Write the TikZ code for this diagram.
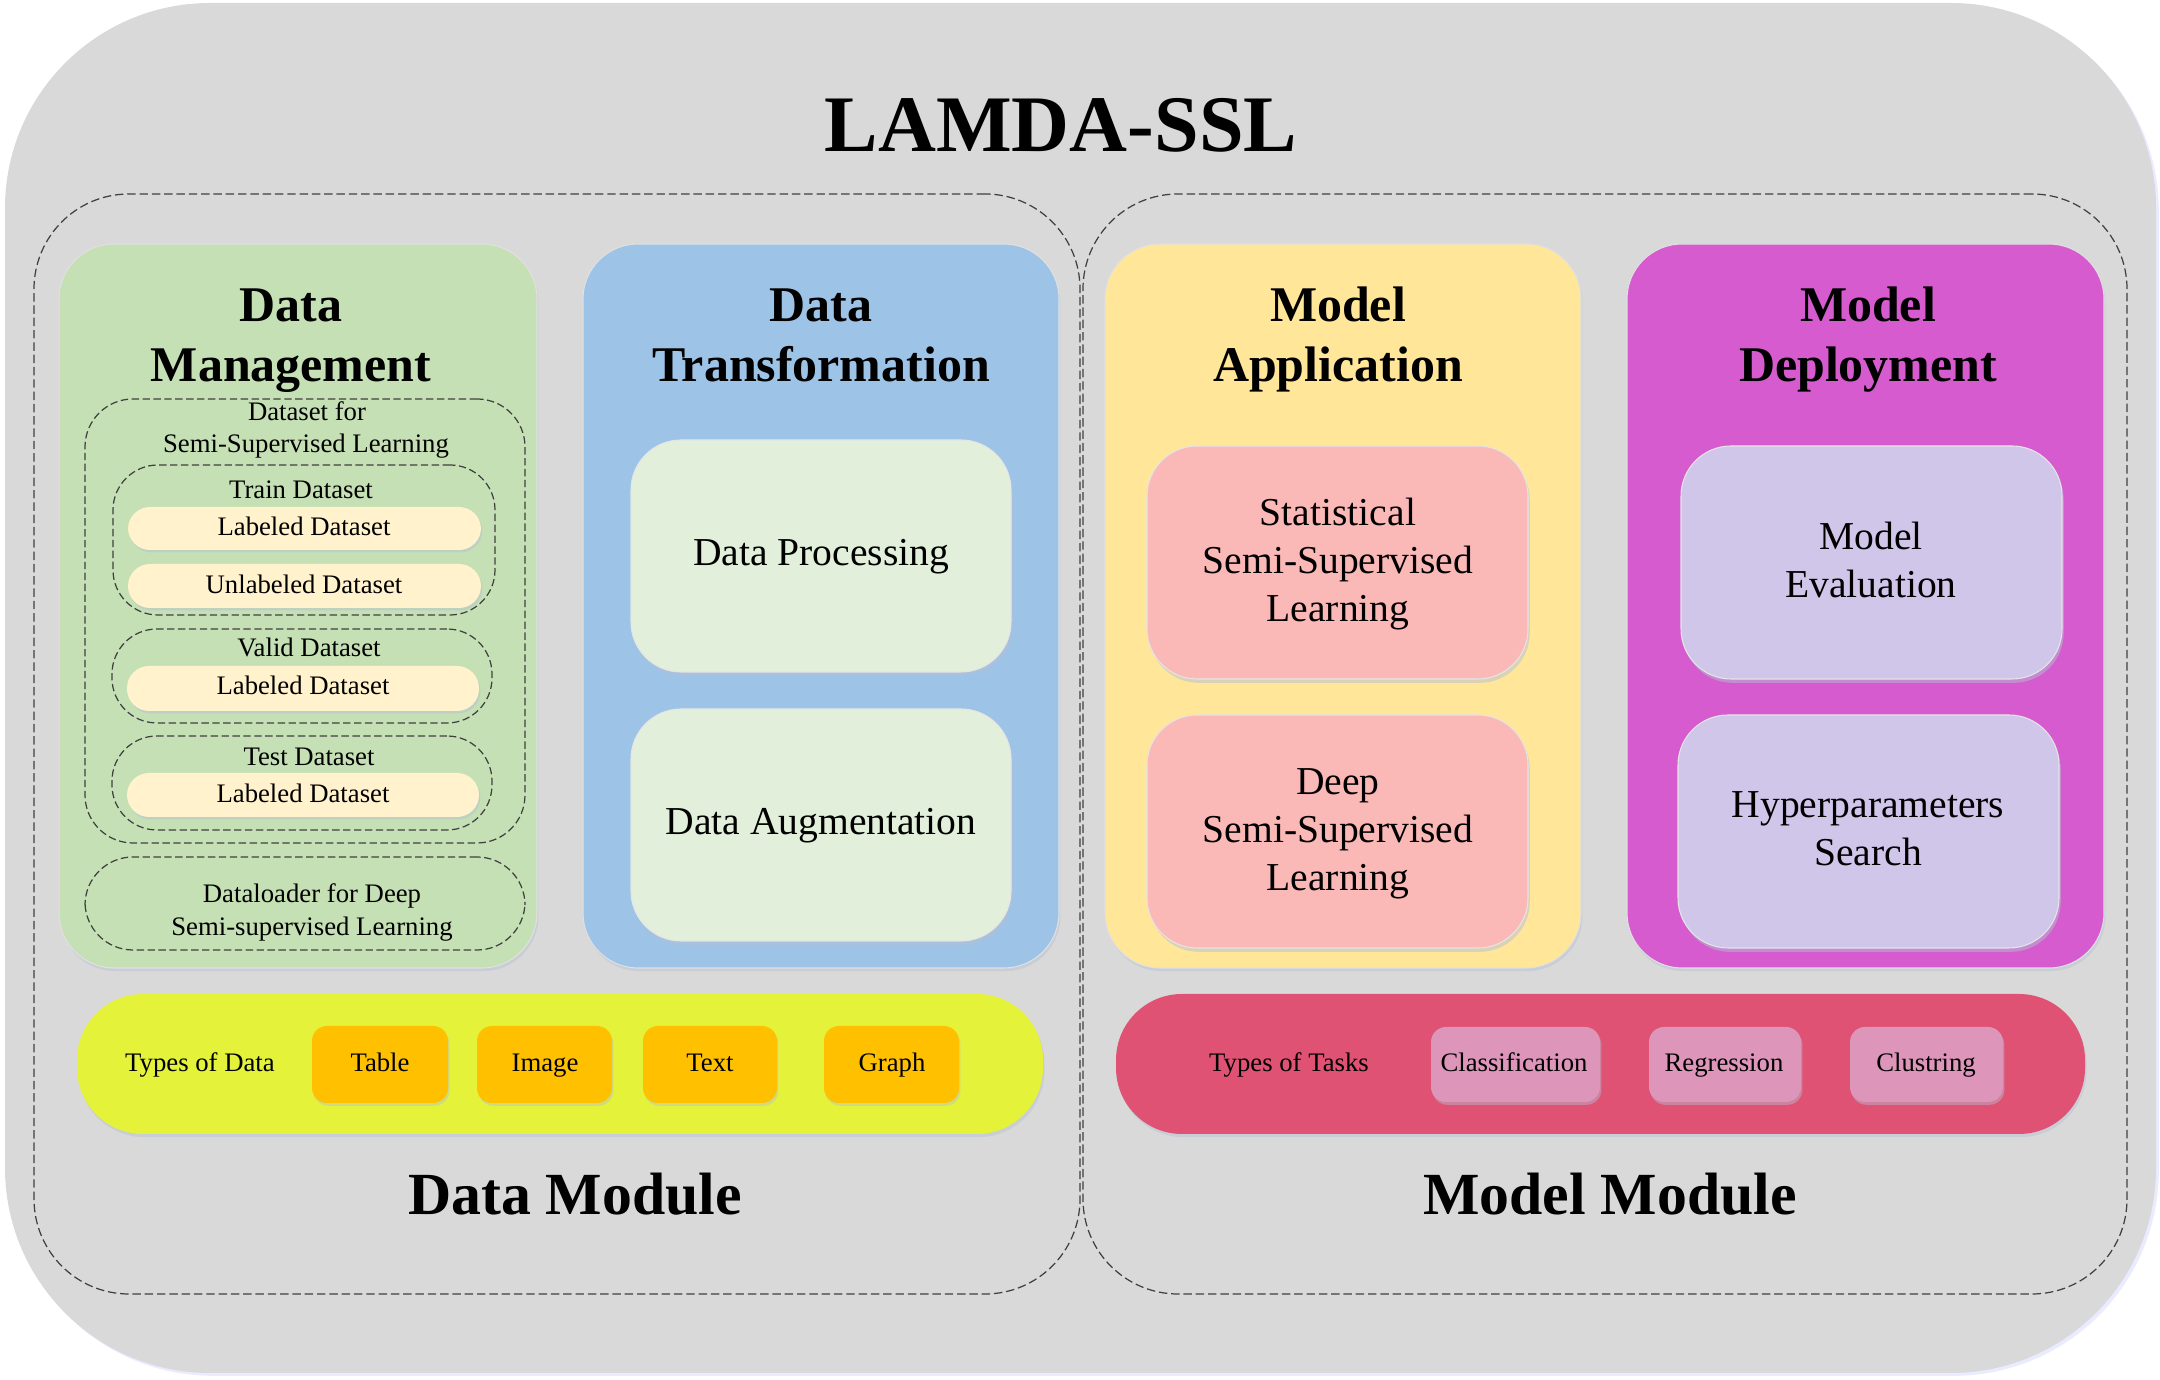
\documentclass[tikz,border=0pt]{standalone}
\usepackage{fontspec}
\setmainfont{Liberation Serif}
\usetikzlibrary{fit,shadows}

\definecolor{outerg}{HTML}{D9D9D9}
\definecolor{dmgreen}{HTML}{C5E0B4}
\definecolor{dtblue}{HTML}{9DC3E6}
\definecolor{mayellow}{HTML}{FFE699}
\definecolor{mdmag}{HTML}{D55BCE}
\definecolor{lgreen}{HTML}{E2EFDA}
\definecolor{lpink}{HTML}{FAB9B6}
\definecolor{lav}{HTML}{D0C6E9}
\definecolor{cream}{HTML}{FFF2CC}
\definecolor{ybar}{HTML}{E4F23A}
\definecolor{orng}{HTML}{FFC000}
\definecolor{rbar}{HTML}{DF5274}
\definecolor{pinkb}{HTML}{DD95BA}
\definecolor{shade}{HTML}{B4C0D4}

\newcommand\ftitle{\bfseries\fontsize{22.8}{27}\selectfont}
\newcommand\fmod{\bfseries\fontsize{17}{20}\selectfont}
\newcommand\fpanel{\bfseries\fontsize{14.2}{17.1}\selectfont}
\newcommand\fbx{\fontsize{11.25}{13.66}\selectfont}
\newcommand\fsm{\fontsize{7.6}{8.8}\selectfont}

\begin{document}
\begin{tikzpicture}[x=0.01cm,y=-0.01cm,
  box/.style={inner sep=0pt, outer sep=0pt},
  outerbox/.style={box, fill=outerg, rounded corners=2.05cm,
    drop shadow={shadow xshift=0.8pt, shadow yshift=-0.8pt, opacity=1, fill=blue!8!white}},
  moddash/.style={box, draw=black!75, line width=0.35pt, dash pattern=on 2.4pt off 1.1pt, rounded corners=0.95cm},
  panel/.style={box, draw=black!12, line width=0.3pt, rounded corners=0.55cm,
    drop shadow={shadow xshift=0.4pt, shadow yshift=-0.9pt, opacity=0.45, fill=shade}},
  inbox/.style={box, draw=black!10, line width=0.3pt, rounded corners=0.5cm,
    drop shadow={shadow xshift=0.5pt, shadow yshift=-1.1pt, opacity=0.5, fill=shade}},
  grpdash/.style={box, draw=black!75, line width=0.35pt, dash pattern=on 2.1pt off 1pt, rounded corners=0.45cm},
  pill/.style={box, fill=cream, rounded corners=0.22cm,
    drop shadow={shadow xshift=0.4pt, shadow yshift=-0.7pt, opacity=0.45, fill=shade}},
  bar/.style={box, rounded corners=0.66cm,
    drop shadow={shadow xshift=0.4pt, shadow yshift=-0.9pt, opacity=0.45, fill=shade}},
  tag/.style={box, rounded corners=0.15cm,
    drop shadow={shadow xshift=0.4pt, shadow yshift=-0.8pt, opacity=0.45, fill=shade}},
  ptitle/.style={anchor=base, inner sep=0pt, font=\fpanel},
  btxt/.style={anchor=base, inner sep=0pt, font=\fbx},
  lbl/.style={anchor=base, inner sep=0pt, font=\fsm},
]
\useasboundingbox (0,0) rectangle (2160,1380);

% outer frame
\node[outerbox, fit={(5,3) (2156,1373)}] (outer) {};
\node[anchor=base, inner sep=0pt, font=\ftitle] (title) at (1061,152) {LAMDA-SSL};

% modules
\node[moddash, fit={(34,194) (1080,1294)}] (dmod) {};
\node[moddash, fit={(1083,194) (2127,1294)}] (mmod) {};
\node[anchor=base, inner sep=0pt, font=\fmod] (dmodlbl) at (575,1215) {Data Module};
\node[anchor=base, inner sep=0pt, font=\fmod] (mmodlbl) at (1610,1215) {Model Module};

% panels
\node[panel, fill=dmgreen, fit={(59,244) (537,968)}] (dm) {};
\node[panel, fill=dtblue, fit={(583,244) (1059,968)}] (dt) {};
\node[panel, fill=mayellow, fit={(1105,244) (1581,968)}] (ma) {};
\node[panel, fill=mdmag, fit={(1627,244) (2104,968)}] (md) {};

\node[ptitle] (dmt1) at (291,322) {Data};
\node[ptitle] (dmt2) at (291,382) {Management};
\node[ptitle] (dtt1) at (821,322) {Data};
\node[ptitle] (dtt2) at (821,382) {Transformation};
\node[ptitle] (mat1) at (1338,322) {Model};
\node[ptitle] (mat2) at (1338,382) {Application};
\node[ptitle] (mdt1) at (1868,322) {Model};
\node[ptitle] (mdt2) at (1868,382) {Deployment};

% data transformation boxes
\node[inbox, fill=lgreen, fit={(631,440) (1011,672)}] (proc) {};
\node[btxt] (procT) at (821,566) {Data Processing};
\node[inbox, fill=lgreen, fit={(631,709) (1011,941)}] (aug) {};
\node[btxt] (augT) at (821,835) {Data Augmentation};

% model application boxes
\node[inbox, fill=lpink, fit={(1147,446) (1528,679)}] (stat) {};
\node[btxt] (statT1) at (1338,526) {Statistical};
\node[btxt] (statT2) at (1338,574) {Semi-Supervised};
\node[btxt] (statT3) at (1338,622) {Learning};
\node[inbox, fill=lpink, fit={(1147,715) (1528,948)}] (deep) {};
\node[btxt] (deepT1) at (1338,795) {Deep};
\node[btxt] (deepT2) at (1338,843) {Semi-Supervised};
\node[btxt] (deepT3) at (1338,891) {Learning};

% model deployment boxes
\node[inbox, fill=lav, fit={(1681,446) (2062,679)}] (eval) {};
\node[btxt] (evalT1) at (1871,550) {Model};
\node[btxt] (evalT2) at (1871,598) {Evaluation};
\node[inbox, fill=lav, fit={(1678,715) (2059,948)}] (hyper) {};
\node[btxt] (hyperT1) at (1868,818) {Hyperparameters};
\node[btxt] (hyperT2) at (1868,866) {Search};

% data management contents
\node[grpdash, rounded corners=0.48cm, fit={(85,399) (525,843)}] (dsssl) {};
\node[lbl] (dsl1) at (307,421) {Dataset for};
\node[lbl] (dsl2) at (306,453) {Semi-Supervised Learning};

\node[grpdash, fit={(113,465) (495,615)}] (train) {};
\node[lbl] (trainl) at (301,499) {Train Dataset};
\node[pill, fit={(128,507) (481,550)}] (trl) {};
\node[lbl] (trlT) at (304,536) {Labeled Dataset};
\node[pill, fit={(128,564) (481,608)}] (tru) {};
\node[lbl] (truT) at (304,594) {Unlabeled Dataset};

\node[grpdash, fit={(112,629) (492,723)}] (valid) {};
\node[lbl] (validl) at (309,657) {Valid Dataset};
\node[pill, fit={(127,666) (479,711)}] (val) {};
\node[lbl] (valT) at (303,695) {Labeled Dataset};

\node[grpdash, fit={(112,736) (492,830)}] (test) {};
\node[lbl] (testl) at (309,766) {Test Dataset};
\node[pill, fit={(127,773) (479,817)}] (tel) {};
\node[lbl] (telT) at (303,803) {Labeled Dataset};

\node[grpdash, rounded corners=0.48cm, fit={(85,857) (525,950)}] (loader) {};
\node[lbl] (ldl1) at (312,903) {Dataloader for Deep};
\node[lbl] (ldl2) at (312,936) {Semi-supervised Learning};

% types of data bar
\node[bar, fill=ybar, fit={(77,994) (1043,1134)}] (dbar) {};
\node[lbl] (tod) at (200,1072) {Types of Data};
\node[tag, fill=orng, fit={(312,1026) (448,1103)}] (ttable) {};
\node[lbl] at (380,1072) {Table};
\node[tag, fill=orng, fit={(477,1026) (612,1103)}] (timage) {};
\node[lbl] at (545,1072) {Image};
\node[tag, fill=orng, fit={(643,1026) (777,1103)}] (ttext) {};
\node[lbl] at (710,1072) {Text};
\node[tag, fill=orng, fit={(824,1026) (959,1103)}] (tgraph) {};
\node[lbl] at (892,1072) {Graph};

% types of tasks bar
\node[bar, fill=rbar, fit={(1116,994) (2085,1134)}] (mbar) {};
\node[lbl] (tot) at (1289,1072) {Types of Tasks};
\node[tag, fill=pinkb, fit={(1431,1027) (1600,1102)}] (tcls) {};
\node[lbl] at (1514,1072) {Classification};
\node[tag, fill=pinkb, fit={(1649,1027) (1801,1102)}] (treg) {};
\node[lbl] at (1724,1072) {Regression};
\node[tag, fill=pinkb, fit={(1850,1027) (2003,1102)}] (tclu) {};
\node[lbl] at (1926,1072) {Clustring};
\end{tikzpicture}
\end{document}
